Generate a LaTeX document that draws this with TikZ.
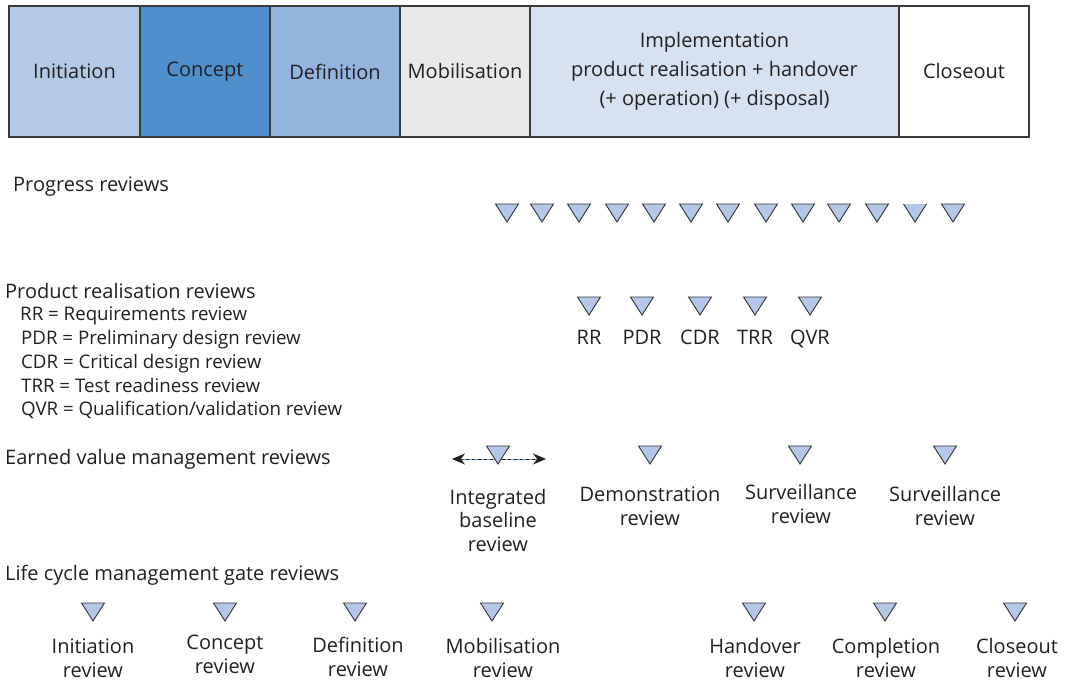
\documentclass[tikz,border=0pt]{standalone}
\usepackage{fontspec}
\setmainfont{Open Sans}
\usetikzlibrary{arrows.meta}
\definecolor{cinit}{HTML}{B3C9E8}
\definecolor{cconc}{HTML}{4F8FCC}
\definecolor{cdef}{HTML}{93B4DF}
\definecolor{cmob}{HTML}{E9E9EB}
\definecolor{cimp}{HTML}{D6E2F2}
\definecolor{boxline}{HTML}{3A3A3A}
\definecolor{trifill}{HTML}{B4C7E7}
\definecolor{triline}{HTML}{333333}
\definecolor{txt}{HTML}{231F20}
\definecolor{dashblue}{HTML}{5B9BD5}
\begin{document}
\begin{tikzpicture}[x=1pt,y=-1pt,
  phase/.style={draw=boxline, line width=1.2pt, minimum height=131pt, inner sep=0pt,
    text=txt, font=\fontsize{20}{29}\selectfont, align=center},
  hdr/.style={text=txt, font=\fontsize{20}{24}\selectfont, anchor=base west, inner sep=0pt},
  sub/.style={text=txt, font=\fontsize{18.7}{24}\selectfont, anchor=base west, inner sep=0pt},
  lbl/.style={text=txt, font=\fontsize{20}{23.5}\selectfont, align=center, anchor=base, inner sep=0pt},
  tri/.pic={\draw[fill=trifill, draw=triline, line width=0.9pt, line join=miter]
     (-11.5,-9) -- (11.5,-9) -- (0,9) -- cycle;},
  trilight/.pic={\fill[trifill] (-11.5,-9) -- (11.5,-9) -- (0,9) -- cycle;
     \draw[draw=triline, line width=0.9pt] (-11.5,-9) -- (0,9) -- (11.5,-9);}
]
\useasboundingbox (0,0) rectangle (1068,682);

% phase bar
\node[phase, fill=cinit, minimum width=131pt] (init) at (74.5,71.5) {Initiation};
\node[phase, fill=cconc, minimum width=130pt] (conc) at (205,71.5) {Concept};
\node[phase, fill=cdef, minimum width=130pt] (defn) at (335,71.5) {Definition};
\node[phase, fill=cmob, minimum width=130pt] (mob) at (465,71.5) {Mobilisation};
\node[phase, fill=cimp, minimum width=369pt] (impl) at (714.5,71.5) {Implementation\\product realisation + handover\\(+ operation) (+ disposal)};
\node[phase, fill=white, minimum width=130pt] (close) at (964,71.5) {Closeout};

% row headers
\node[hdr] (hprog) at (13,191) {Progress reviews};
\node[hdr] (hprod) at (5,298) {Product realisation reviews};
\node[sub] (s1) at (20,320) {RR = Requirements review};
\node[sub] (s2) at (21,344) {PDR = Preliminary design review};
\node[sub] (s3) at (21,368) {CDR = Critical design review};
\node[sub] (s4) at (21,392) {TRR = Test readiness review};
\node[sub] (s5) at (21,415) {QVR = Qualification/validation review};
\node[hdr] (hevm) at (5,464) {Earned value management reviews};
\node[hdr] (hlc) at (5,580) {Life cycle management gate reviews};

% progress reviews
\path (507,213) coordinate (p1) pic{tri};
\path (542,213) coordinate (p2) pic{tri};
\path (579,213) coordinate (p3) pic{tri};
\path (617,213) coordinate (p4) pic{tri};
\path (654,213) coordinate (p5) pic{tri};
\path (691,213) coordinate (p6) pic{tri};
\path (728,213) coordinate (p7) pic{tri};
\path (766,213) coordinate (p8) pic{tri};
\path (803,213) coordinate (p9) pic{tri};
\path (839,213) coordinate (p10) pic{tri};
\path (877,213) coordinate (p11) pic{tri};
\path (915,213) coordinate (p12) pic{trilight};
\path (953,213) coordinate (p13) pic{tri};

% product realisation reviews
\path (589,306) coordinate (rr) pic{tri};
\path (642,306) coordinate (pdr) pic{tri};
\path (700,306) coordinate (cdr) pic{tri};
\path (755,306) coordinate (trr) pic{tri};
\path (810,306) coordinate (qvr) pic{tri};
\node[lbl] (lrr) at (589,344) {RR};
\node[lbl] (lpdr) at (642,344) {PDR};
\node[lbl] (lcdr) at (700,344) {CDR};
\node[lbl] (ltrr) at (755,344) {TRR};
\node[lbl] (lqvr) at (810,344) {QVR};

% earned value management reviews
\coordinate (ibL) at (452,459);
\coordinate (ibR) at (546,459);
\draw[dashblue, line width=1pt, shorten <=8pt, shorten >=8pt] (ibL) -- (ibR);
\draw[txt, line width=1pt, dash pattern=on 3pt off 3pt,
  {Stealth[length=13pt,width=11pt]}-{Stealth[length=13pt,width=11pt]}] (ibL) -- (ibR);
\path (498,455) coordinate (ibr) pic{tri};
\path (650,455) coordinate (dem) pic{tri};
\path (800,455) coordinate (sv1) pic{tri};
\path (945,455) coordinate (sv2) pic{tri};
\node[lbl] (libr) at (498,551) {Integrated\\baseline\\review};
\node[lbl] (ldem) at (650,525) {Demonstration\\review};
\node[lbl] (lsv1) at (801,523) {Surveillance\\review};
\node[lbl] (lsv2) at (945,525) {Surveillance\\review};

% life cycle management gate reviews
\path (93,612) coordinate (g1) pic{tri};
\path (225,612) coordinate (g2) pic{tri};
\path (355,612) coordinate (g3) pic{tri};
\path (492,612) coordinate (g4) pic{tri};
\path (754,612) coordinate (g5) pic{tri};
\path (885,612) coordinate (g6) pic{tri};
\path (1015,612) coordinate (g7) pic{tri};
\node[lbl] (lg1) at (93,677) {Initiation\\review};
\node[lbl] (lg2) at (225,673) {Concept\\review};
\node[lbl] (lg3) at (358,676) {Definition\\review};
\node[lbl] (lg4) at (503,677) {Mobilisation\\review};
\node[lbl] (lg5) at (755,677) {Handover\\review};
\node[lbl] (lg6) at (886,677) {Completion\\review};
\node[lbl] (lg7) at (1017,677) {Closeout\\review};
\end{tikzpicture}
\end{document}
